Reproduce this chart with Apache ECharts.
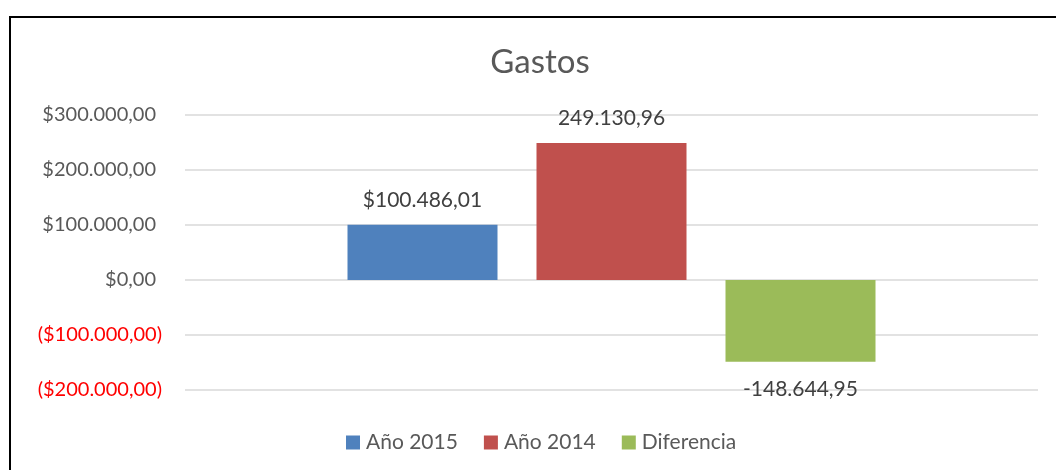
<!DOCTYPE html>
<html>
<head>
<meta charset="utf-8">
<script src="https://cdn.jsdelivr.net/npm/echarts@6/dist/echarts.min.js"></script>
<style>
  html, body { margin: 0; padding: 0; background: #fff; }
  #wrap { position: relative; width: 1056px; height: 470px; overflow: hidden; }
  #frame {
    position: absolute; left: 9px; top: 16px; width: 1100px; height: 500px;
    border-left: 2px solid #000; border-top: 2px solid #000;
  }
  #chart { position: absolute; left: 0; top: 0; width: 1056px; height: 470px; }
</style>
</head>
<body>
<div id="wrap">
  <div id="frame"></div>
  <div id="chart"></div>
</div>
<script>
// Chart data
const categories = ['Gastos'];
const seriesNames = ['Año 2015', 'Año 2014', 'Diferencia'];
const seriesValues = [100486.01, 249130.96, -148644.95];
const seriesColors = ['#4f81bd', '#c0504d', '#9bbb59'];
const yTicks = [-200000, -100000, 0, 100000, 200000, 300000];

const FONT = 'Lato, "Open Sans", sans-serif';

function esNumber(v) {
  return Math.abs(v).toLocaleString('de-DE', { minimumFractionDigits: 2, maximumFractionDigits: 2 });
}

// accounting style: negatives in red parentheses, positives padded for the ")"
function axisLabel(v) {
  return v < 0 ? '{neg|($' + esNumber(v) + ')}' : '{pos|$' + esNumber(v) + '}';
}

// Excel showed each data label with its own format
const labelFormats = [
  v => '$' + esNumber(v),
  v => esNumber(v),
  v => (v < 0 ? '-' : '') + esNumber(v)
];

const chart = echarts.init(document.getElementById('chart'), null, { renderer: 'canvas' });

const option = {
  animation: false,
  backgroundColor: 'transparent',
  textStyle: { fontFamily: FONT },
  title: {
    text: 'Gastos',
    left: 535,
    top: 41,
    textAlign: 'center',
    textStyle: { fontFamily: FONT, fontSize: 33, fontWeight: 'normal', color: '#595959' }
  },
  legend: {
    bottom: 12,
    left: 341,
    itemWidth: 14,
    itemHeight: 14,
    itemGap: 26,
    icon: 'rect',
    textStyle: { fontFamily: FONT, fontSize: 21, color: '#595959', padding: [0, 0, 0, 1] },
    data: seriesNames
  },
  grid: { left: 185, right: 18, top: 115, bottom: 80, containLabel: false },
  xAxis: {
    type: 'category',
    data: categories,
    show: false
  },
  yAxis: {
    type: 'value',
    min: yTicks[0],
    max: yTicks[yTicks.length - 1],
    interval: 100000,
    axisLine: { show: false },
    axisTick: { show: false },
    splitLine: { lineStyle: { color: '#d9d9d9', width: 1.5 } },
    axisLabel: {
      margin: 23,
      fontFamily: FONT,
      fontSize: 20,
      color: '#595959',
      formatter: axisLabel,
      rich: {
        neg: { color: '#ff0000', fontFamily: FONT, fontSize: 20 },
        pos: { color: '#595959', fontFamily: FONT, fontSize: 20, padding: [0, 6, 0, 0] }
      }
    }
  },
  series: seriesNames.map((name, i) => ({
    name: name,
    type: 'bar',
    data: [seriesValues[i]],
    barWidth: 150,
    barGap: '26%',
    itemStyle: { color: seriesColors[i] },
    label: {
      show: true,
      position: seriesValues[i] < 0 ? 'bottom' : 'top',
      distance: seriesValues[i] < 0 ? 17 : 14,
      fontFamily: FONT,
      fontSize: 21,
      color: '#404040',
      formatter: p => labelFormats[i](p.value)
    }
  }))
};

chart.setOption(option);
</script>
</body>
</html>
